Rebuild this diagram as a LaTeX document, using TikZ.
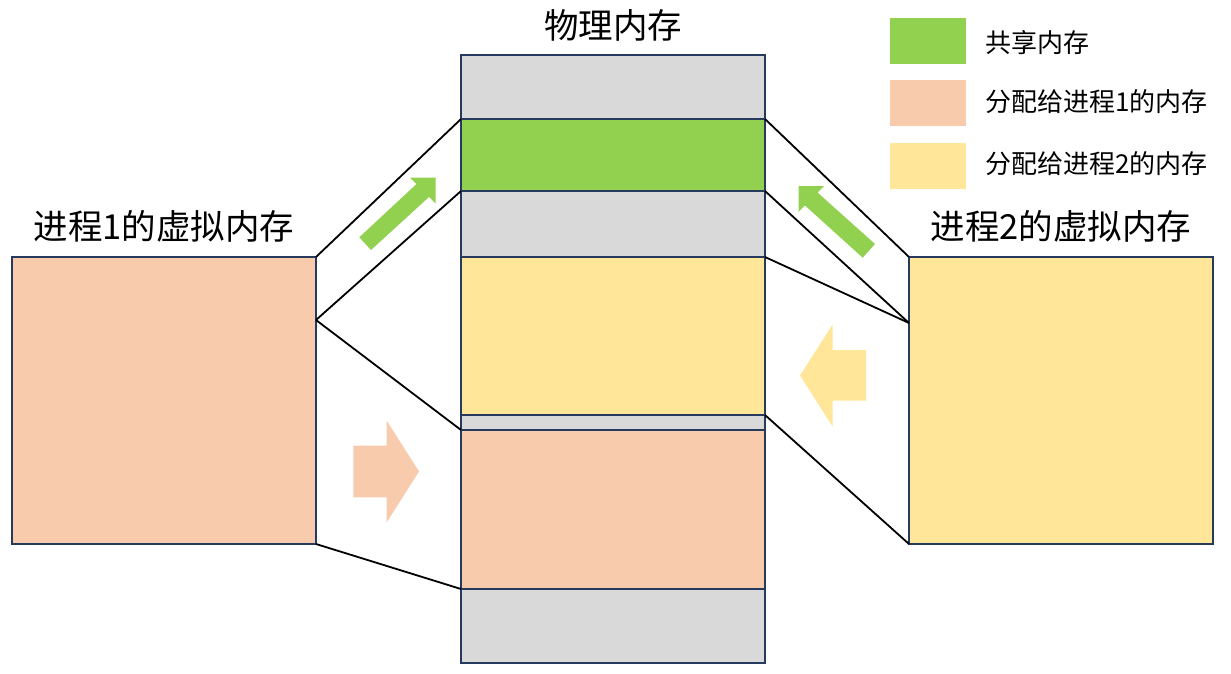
\documentclass[tikz,border=0pt]{standalone}
\usepackage{fontspec}
\setmainfont{Noto Sans CJK SC}
\definecolor{cgreen}{HTML}{92D050}
\definecolor{cpeach}{HTML}{F8CBAD}
\definecolor{cyellow}{HTML}{FFE699}
\definecolor{cgray}{HTML}{D9D9D9}
\definecolor{cborder}{HTML}{263A5E}
\begin{document}
\begin{tikzpicture}[x=1pt,y=-1pt,
  mem/.style={draw=cborder,line width=1.8pt,inner sep=0pt,outer sep=0pt,anchor=north west,minimum width=304pt},
  leg/.style={inner sep=0pt,outer sep=0pt,anchor=north west,minimum width=76pt,minimum height=45.5pt},
  title/.style={font=\fontsize{34.5}{40}\selectfont,inner sep=0pt},
  legtext/.style={font=\fontsize{26}{30}\selectfont,inner sep=0pt,anchor=west},
  link/.style={line width=1.8pt,black}]
\useasboundingbox (0,0) rectangle (1231,673);
% physical memory column
\node[mem,fill=cgray,minimum height=64pt]  (p1) at (461,55) {};
\node[mem,fill=cgreen,minimum height=72pt] (pg) at (461,119) {};
\node[mem,fill=cgray,minimum height=66pt]  (p3) at (461,191) {};
\node[mem,fill=cyellow,minimum height=158pt] (py) at (461,257) {};
\node[mem,fill=cgray,minimum height=15pt]  (p5) at (461,415) {};
\node[mem,fill=cpeach,minimum height=159pt] (pp) at (461,430) {};
\node[mem,fill=cgray,minimum height=74pt]  (p7) at (461,589) {};
% virtual memories
\node[mem,fill=cpeach,minimum height=287pt] (L) at (12,257) {};
\node[mem,fill=cyellow,minimum height=287pt] (R) at (909,257) {};
\coordinate (Lm) at (316,320);
\coordinate (Rm) at (909,323);
% titles
\node[title] (tp) at (613,25) {物理内存};
\node[title] (tl) at (164,226.5) {进程1的虚拟内存};
\node[title] (tr) at (1061,226.5) {进程2的虚拟内存};
% legend
\node[leg,fill=cgreen] (lg1) at (890,18) {};
\node[leg,fill=cpeach] (lg2) at (890,80) {};
\node[leg,fill=cyellow] (lg3) at (890,143) {};
\node[legtext] (lt1) at (985,42.5) {共享内存};
\node[legtext] (lt2) at (985,101.5) {分配给进程1的内存};
\node[legtext] (lt3) at (985,164) {分配给进程2的内存};
% links
\draw[link] (L.north east) -- (pg.north west);
\draw[link] (Lm) -- (pg.south west);
\draw[link] (Lm) -- (pp.north west);
\draw[link] (L.south east) -- (pp.south west);
\draw[link] (pg.north east) -- (R.north west);
\draw[link] (pg.south east) -- (Rm);
\draw[link] (py.north east) -- (Rm);
\draw[link] (py.south east) -- (R.south west);
% block arrows
\fill[cgreen] (359.3,237.3) -- (416.4,184.1) -- (410,177.5) -- (435.5,177.5) -- (435.5,203.5) -- (429.1,196.9) -- (371,250) -- cycle;
\fill[cgreen] (798.5,186) -- (824,186) -- (817.6,192.6) -- (875,244) -- (862.7,257.7) -- (804.9,205.4) -- (798.5,212) -- cycle;
\fill[cpeach] (353.3,445.7) -- (386.7,445.7) -- (386.7,420.7) -- (419,471.5) -- (386.7,522.3) -- (386.7,497.3) -- (353.3,497.3) -- cycle;
\fill[cyellow] (866,350) -- (832.7,350) -- (832.7,324.3) -- (800,375.5) -- (832.7,426.7) -- (832.7,400.7) -- (866,400.7) -- cycle;
\end{tikzpicture}
\end{document}
